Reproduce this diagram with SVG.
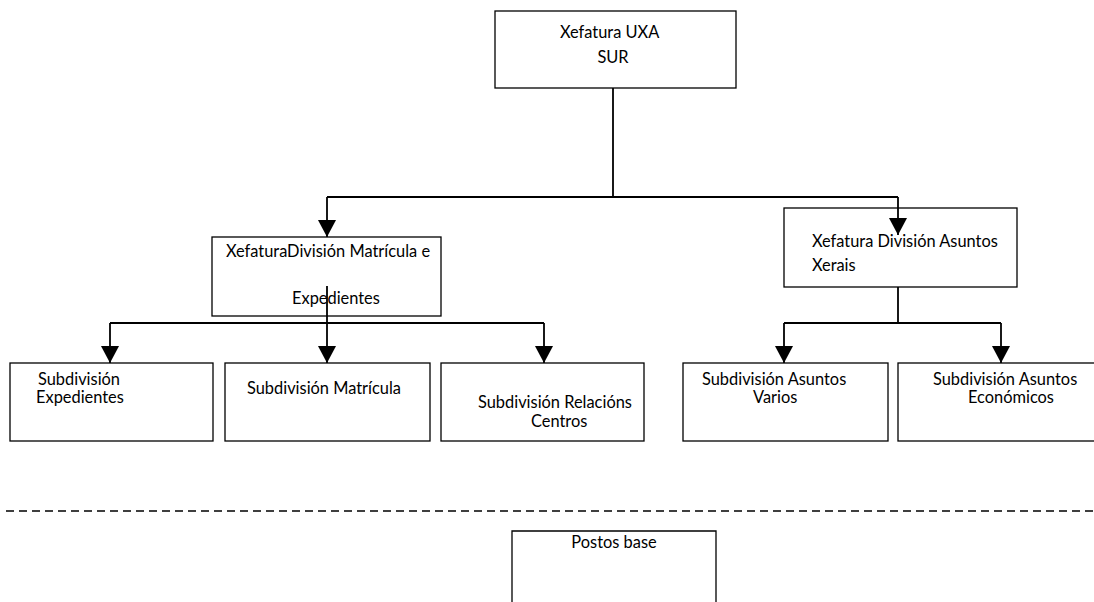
<svg xmlns="http://www.w3.org/2000/svg" width="1094" height="602" viewBox="0 0 1094 602">
  <style>
    .box { fill: #ffffff; stroke: #000000; stroke-width: 1.3; }
    .lbl { font-family: Lato, "Open Sans", "Liberation Sans", sans-serif; font-size: 16.4px; fill: #000000; }
    .wire { fill: none; stroke: #000000; stroke-width: 1.8; }
    .dash { fill: none; stroke: #000000; stroke-width: 1.3; stroke-dasharray: 8 5; }
  </style>
  <defs>
    <marker id="tip" viewBox="0 0 17 18" refX="17" refY="9" markerWidth="17" markerHeight="18" markerUnits="userSpaceOnUse" orient="auto">
      <path d="M0,0 L17,9 L0,18 Z" fill="#000000"/>
    </marker>
  </defs>

  <rect width="1094" height="602" fill="#ffffff"/>

  <!-- top level -->
  <g id="xefatura-uxa">
    <rect class="box" x="495" y="11" width="241" height="77"/>
    <text class="lbl" x="560" y="38">Xefatura UXA</text>
    <text class="lbl" x="613" y="63" text-anchor="middle">SUR</text>
  </g>

  <!-- second level -->
  <g id="division-matricula">
    <rect class="box" x="212" y="237" width="229" height="79"/>
    <text class="lbl" x="226" y="257">XefaturaDivisión Matrícula e</text>
    <text class="lbl" x="292" y="304">Expedientes</text>
  </g>
  <g id="division-asuntos">
    <rect class="box" x="784" y="208" width="233" height="79"/>
    <text class="lbl" x="812" y="247">Xefatura División Asuntos</text>
    <text class="lbl" x="812" y="271">Xerais</text>
  </g>

  <!-- third level -->
  <g id="sub-expedientes">
    <rect class="box" x="10" y="363" width="203" height="78"/>
    <text class="lbl" x="38" y="385">Subdivisión</text>
    <text class="lbl" x="36" y="403">Expedientes</text>
  </g>
  <g id="sub-matricula">
    <rect class="box" x="225" y="363" width="205" height="78"/>
    <text class="lbl" x="247" y="394">Subdivisión Matrícula</text>
  </g>
  <g id="sub-relacions">
    <rect class="box" x="441" y="363" width="203" height="78"/>
    <text class="lbl" x="478" y="408">Subdivisión Relacións</text>
    <text class="lbl" x="531" y="427">Centros</text>
  </g>
  <g id="sub-varios">
    <rect class="box" x="683" y="363" width="205" height="78"/>
    <text class="lbl" x="702" y="385">Subdivisión Asuntos</text>
    <text class="lbl" x="753" y="403">Varios</text>
  </g>
  <g id="sub-economicos">
    <rect class="box" x="898" y="363" width="200" height="78"/>
    <text class="lbl" x="933" y="385">Subdivisión Asuntos</text>
    <text class="lbl" x="968" y="403">Económicos</text>
  </g>

  <!-- base posts -->
  <g id="postos-base">
    <path class="box" d="M512,602 V531 H716 V602"/>
    <text class="lbl" x="614" y="548" text-anchor="middle">Postos base</text>
  </g>

  <!-- connectors -->
  <g id="connectors">
    <path class="wire" d="M613,88 V197"/>
    <path class="wire" d="M327,197 H898"/>
    <path class="wire" d="M327,197 V237" marker-end="url(#tip)"/>
    <path class="wire" d="M898,197 V235" marker-end="url(#tip)"/>

    <path class="wire" d="M327,286 V323"/>
    <path class="wire" d="M110,323 H544"/>
    <path class="wire" d="M110,323 V363" marker-end="url(#tip)"/>
    <path class="wire" d="M327,323 V363" marker-end="url(#tip)"/>
    <path class="wire" d="M544,323 V363" marker-end="url(#tip)"/>

    <path class="wire" d="M898,287 V323"/>
    <path class="wire" d="M784,323 H1001"/>
    <path class="wire" d="M784,323 V363" marker-end="url(#tip)"/>
    <path class="wire" d="M1001,323 V363" marker-end="url(#tip)"/>

    <path class="dash" d="M6,511 H1094"/>
  </g>
</svg>
